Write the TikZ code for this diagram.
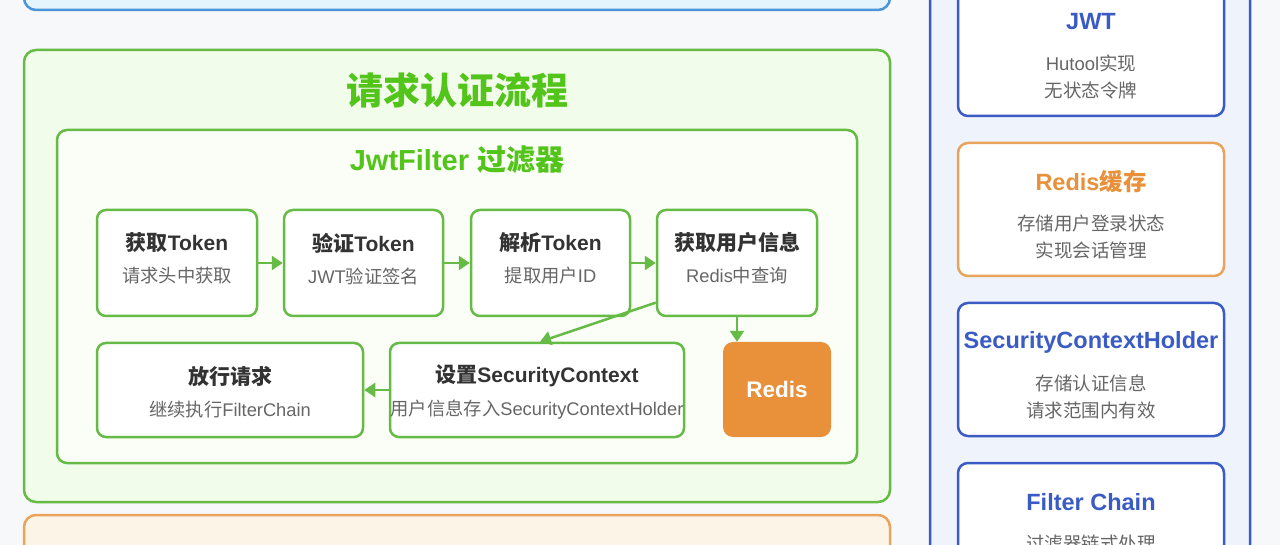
\documentclass[tikz,border=0pt]{standalone}
\usepackage{fontspec}
\setmainfont{Liberation Sans}
\newfontfamily\zh{Noto Sans CJK SC}
\usetikzlibrary{arrows.meta,positioning}

\definecolor{pagebg}{HTML}{F7F8F9}
\definecolor{flowgreen}{HTML}{66BB46}
\definecolor{titlegreen}{HTML}{52C41A}
\definecolor{greenfill}{HTML}{F2FCEA}
\definecolor{innerfill}{HTML}{FAFEF6}
\definecolor{redisorange}{HTML}{E8913A}
\definecolor{orangeline}{HTML}{E9A35B}
\definecolor{orangefill}{HTML}{FDF4E8}
\definecolor{panelblue}{HTML}{3A5BC4}
\definecolor{panelfill}{HTML}{EEF3FC}
\definecolor{topblue}{HTML}{4A94D8}
\definecolor{topfill}{HTML}{E4F5FE}
\definecolor{darktext}{HTML}{333333}
\definecolor{subtext}{HTML}{666666}

\tikzset{
  flowbox/.style={draw=flowgreen, line width=2.5pt, fill=white, rounded corners=9pt,
    minimum width=#1, inner sep=0pt},
  flowtitle/.style={inner sep=0pt, text=darktext, font=\fontsize{21}{24}\selectfont\bfseries},
  flowsub/.style={inner sep=0pt, text=subtext, font=\fontsize{18.3}{22}\selectfont},
  flowarrow/.style={draw=flowgreen, line width=2.5pt, -{Triangle[length=11pt,width=14pt]}},
  card/.style={draw=#1, line width=2.5pt, fill=white, rounded corners=10pt,
    minimum width=266pt, minimum height=133pt, inner sep=0pt},
  cardtitle/.style={inner sep=0pt, text=#1, font=\fontsize{23.5}{27}\selectfont\bfseries},
  cardsub/.style={inner sep=0pt, text=subtext, align=center, font=\fontsize{18.5}{27}\selectfont},
}

\begin{document}
\begin{tikzpicture}[x=1pt,y=-1pt]
  \useasboundingbox (0,0) rectangle (1280,545);
  \clip (0,0) rectangle (1280,545);
  \fill[pagebg] (0,0) rectangle (1280,545);

  % neighbouring sections, cut by the frame
  \draw[topblue, fill=topfill, line width=2.5pt, rounded corners=12pt] (24,-40) rectangle (890,10);
  \draw[orangeline, fill=orangefill, line width=2.5pt, rounded corners=12pt] (24,515) rectangle (890,600);

  % request flow
  \node[draw=flowgreen, fill=greenfill, line width=2.5pt, rounded corners=12pt,
    minimum width=866pt, minimum height=452pt] (flow) at (457,276) {};
  \node[inner sep=0pt, text=titlegreen, font=\fontsize{37}{40}\selectfont\bfseries]
    (flowT) at (457,90) {{\zh 请求认证流程}};
  \node[draw=flowgreen, fill=innerfill, line width=2.5pt, rounded corners=10pt,
    minimum width=800pt, minimum height=333pt] (filter) at (457,296.5) {};
  \node[inner sep=0pt, text=titlegreen, font=\fontsize{29}{32}\selectfont\bfseries]
    (filterT) at (457,160) {JwtFilter {\zh 过滤器}};

  % first row
  \node[flowbox=160pt, minimum height=106pt] (get) at (177,263) {};
  \node[flowtitle] (getT) at (177,243) {{\zh 获取}Token};
  \node[flowsub] (getS) at (177,276) {{\zh 请求头中获取}};

  \node[flowbox=159pt, minimum height=106pt] (verify) at (363.5,263) {};
  \node[flowtitle] (verifyT) at (363.5,243) {{\zh 验证}Token};
  \node[flowsub] (verifyS) at (363.5,276) {JWT{\zh 验证签名}};

  \node[flowbox=159pt, minimum height=106pt] (parse) at (550.5,263) {};
  \node[flowtitle] (parseT) at (550.5,243) {{\zh 解析}Token};
  \node[flowsub] (parseS) at (550.5,276) {{\zh 提取用户}ID};

  \node[flowbox=160pt, minimum height=106pt] (user) at (737,263) {};
  \node[flowtitle] (userT) at (737,243) {{\zh 获取用户信息}};
  \node[flowsub] (userS) at (737,276) {Redis{\zh 中查询}};

  % second row
  \node[flowbox=266pt, minimum height=94pt] (pass) at (230,390) {};
  \node[flowtitle] (passT) at (230,376) {{\zh 放行请求}};
  \node[flowsub] (passS) at (230,410) {{\zh 继续执行}FilterChain};

  \node[flowbox=294pt, minimum height=94pt] (setctx) at (537,390) {};
  \node[flowtitle] (setctxT) at (537,376) {{\zh 设置}SecurityContext};
  \node[flowsub] (setctxS) at (537,410) {{\zh 用户信息存入}SecurityContextHolder};

  \node[fill=redisorange, rounded corners=10pt, minimum width=108pt, minimum height=95pt,
    inner sep=0pt, text=white, font=\fontsize{22.5}{26}\selectfont\bfseries] (redis) at (777,389.5) {Redis};

  \draw[flowarrow] (get) -- (verify);
  \draw[flowarrow] (verify) -- (parse);
  \draw[flowarrow] (parse) -- (user);
  \draw[flowarrow] (user.206) -- ([xshift=3pt]setctx.north);
  \draw[flowarrow] (user.south) -- (user.south |- redis.north);
  \draw[flowarrow] (setctx) -- (pass);

  % side panel
  \draw[panelblue, fill=panelfill, line width=2.5pt, rounded corners=12pt] (930,-40) rectangle (1250,600);

  \node[card=panelblue] (jwt) at (1091,49.5) {};
  \node[cardtitle=panelblue] (jwtT) at (1091,22) {JWT};
  \node[cardsub] (jwtS) at (1091,76.5) {Hutool{\zh 实现}\\{\zh 无状态令牌}};

  \node[card=orangeline] (cache) at (1091,209.5) {};
  \node[cardtitle=redisorange] (cacheT) at (1091,182) {Redis{\zh 缓存}};
  \node[cardsub] (cacheS) at (1091,236.5) {{\zh 存储用户登录状态}\\{\zh 实现会话管理}};

  \node[card=panelblue] (holder) at (1091,369.5) {};
  \node[cardtitle=panelblue] (holderT) at (1091,342) {SecurityContextHolder};
  \node[cardsub] (holderS) at (1091,396.5) {{\zh 存储认证信息}\\{\zh 请求范围内有效}};

  \node[card=panelblue] (chain) at (1091,529.5) {};
  \node[cardtitle=panelblue] (chainT) at (1091,502) {Filter Chain};
  \node[cardsub] (chainS) at (1091,543) {{\zh 过滤器链式处理}};
\end{tikzpicture}
\end{document}
